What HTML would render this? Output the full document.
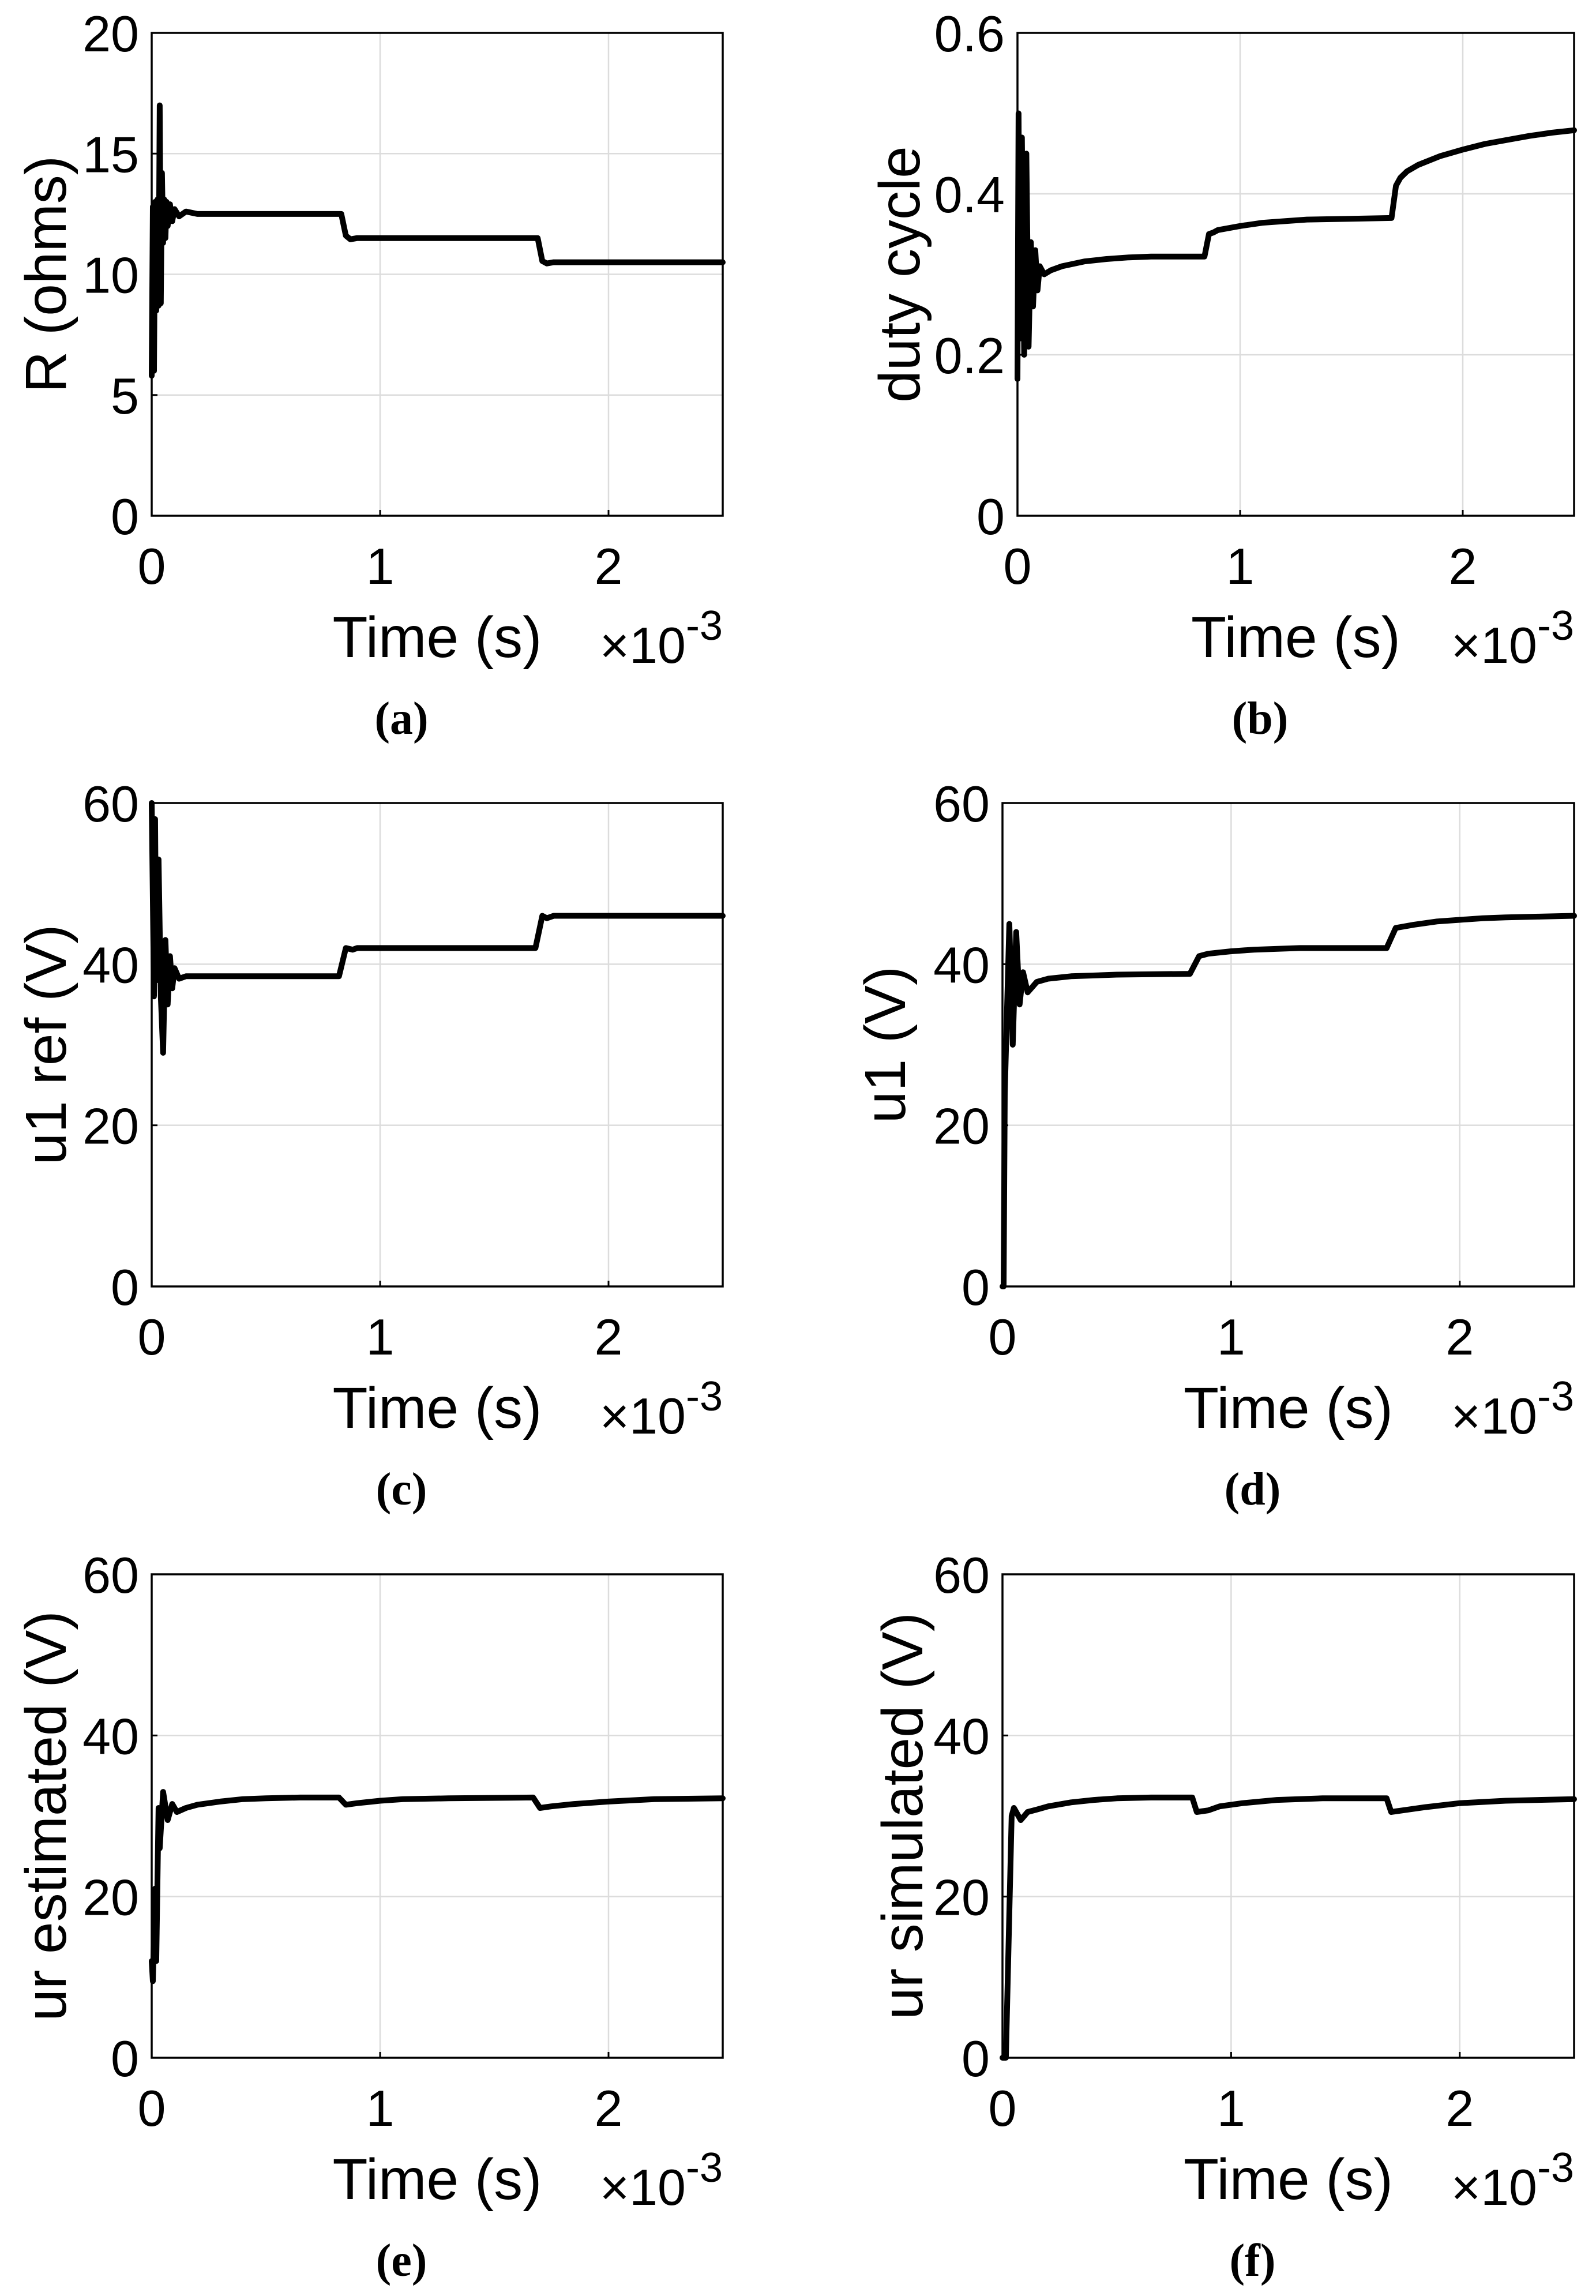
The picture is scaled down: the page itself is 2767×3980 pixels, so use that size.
<!DOCTYPE html>
<html><head><meta charset="utf-8"><style>
html,body{margin:0;padding:0;background:#fff}
svg{display:block}
text{font-family:"Liberation Sans",Arial,sans-serif;fill:#000}
</style></head>
<body>
<svg id="fig" width="2767" height="3980" viewBox="0 0 2767 3980" xmlns="http://www.w3.org/2000/svg"></svg>
<script>
// ---- data (time in ms, i.e. x10^-3 s) ----
const xTicks = [0, 1, 2];
const tA = [0,0.005,0.01,0.015,0.02,0.025,0.03,0.035,0.04,0.045,0.05,0.055,0.06,0.065,0.07,0.08,0.09,0.1,0.12,0.15,0.2,0.83,0.85,0.87,0.9,1.69,1.71,1.73,1.76,2.5];
const vA = [5.8,12.8,6,13,8.5,13.1,8.7,17,8.8,14.2,11.3,13.1,11.5,13,12,12.9,12.2,12.7,12.4,12.6,12.5,12.5,11.6,11.45,11.5,11.5,10.55,10.45,10.5,10.5];
const tB = [0,0.005,0.01,0.02,0.03,0.04,0.05,0.06,0.07,0.08,0.09,0.1,0.12,0.15,0.2,0.25,0.3,0.4,0.5,0.6,0.84,0.86,0.88,0.9,1.0,1.1,1.2,1.3,1.5,1.68,1.7,1.72,1.75,1.8,1.9,2.0,2.1,2.2,2.3,2.4,2.5];
const vB = [0.17,0.5,0.22,0.47,0.2,0.45,0.21,0.34,0.26,0.33,0.28,0.31,0.3,0.305,0.31,0.313,0.316,0.319,0.321,0.322,0.322,0.35,0.352,0.355,0.36,0.364,0.366,0.368,0.369,0.37,0.41,0.42,0.428,0.436,0.447,0.455,0.462,0.467,0.472,0.476,0.479];
const tC = [0,0.01,0.015,0.02,0.03,0.04,0.05,0.06,0.07,0.08,0.09,0.1,0.12,0.15,0.82,0.85,0.88,0.9,1.68,1.71,1.73,1.76,2.5];
const vC = [60,36,58,38,53,36,29,43,35,41,37,39.5,38.2,38.5,38.5,42,41.8,42,42,46,45.7,46,46];
const tD = [0,0.005,0.01,0.03,0.045,0.06,0.075,0.09,0.11,0.15,0.2,0.3,0.5,0.82,0.86,0.9,1.0,1.1,1.3,1.68,1.72,1.8,1.9,2.0,2.1,2.2,2.35,2.5];
const vD = [0,0,24,45,30,44,35,39,36.5,37.8,38.2,38.5,38.7,38.8,41,41.3,41.6,41.8,42,42,44.5,44.9,45.3,45.5,45.7,45.8,45.9,46];
const tE = [0,0.005,0.015,0.02,0.03,0.035,0.05,0.07,0.09,0.11,0.15,0.2,0.3,0.4,0.5,0.65,0.82,0.85,0.9,1.0,1.1,1.3,1.67,1.7,1.75,1.85,2.0,2.2,2.5];
const vE = [12,9.5,21,12,31,26,33,29.5,31.5,30.5,31,31.4,31.8,32.1,32.2,32.3,32.3,31.4,31.6,31.9,32.1,32.2,32.3,31,31.2,31.5,31.8,32.1,32.2];
const tF = [0,0.015,0.04,0.05,0.08,0.11,0.15,0.2,0.3,0.4,0.5,0.65,0.83,0.85,0.9,0.95,1.05,1.2,1.4,1.68,1.7,1.75,1.85,2.0,2.2,2.5];
const vF = [0,0,30,31,29.5,30.5,30.8,31.2,31.7,32,32.2,32.3,32.3,30.5,30.7,31.2,31.6,32,32.2,32.2,30.5,30.7,31.1,31.6,31.9,32.1];
const yTicksA = [0,5,10,15,20];
const yTicksB = [0,0.2,0.4,0.6];
const yTicksV = [0,20,40,60];

const NS = "http://www.w3.org/2000/svg";
const svg = document.getElementById('fig');
function el(tag, attrs, parent, txt){
  const e = document.createElementNS(NS, tag);
  for (const k in attrs) e.setAttribute(k, attrs[k]);
  if (txt !== undefined) e.textContent = txt;
  (parent||svg).appendChild(e);
  return e;
}
const panels = [
  {id:'a', L:263, T:57,   R:1253, B:894,  ymax:20,  yt:yTicksA, t:tA, v:vA, label:'R (ohms)', lx:80},
  {id:'b', L:1764,T:57,   R:2729, B:894,  ymax:0.6, yt:yTicksB, t:tB, v:vB, label:'duty cycle', lx:1560},
  {id:'c', L:263, T:1392, R:1253, B:2230, ymax:60,  yt:yTicksV, t:tC, v:vC, label:'u1 ref (V)', lx:80},
  {id:'d', L:1738,T:1392, R:2729, B:2230, ymax:60,  yt:yTicksV, t:tD, v:vD, label:'u1 (V)', lx:1535},
  {id:'e', L:263, T:2729, R:1253, B:3567, ymax:60,  yt:yTicksV, t:tE, v:vE, label:'ur estimated (V)', lx:80},
  {id:'f', L:1738,T:2729, R:2729, B:3567, ymax:60,  yt:yTicksV, t:tF, v:vF, label:'ur simulated (V)', lx:1565}
];
panels.forEach(p => {
  const g = el('g', {});
  
  
  const xs = x => p.L + (x/2.5)*(p.R-p.L);
  const ys = y => p.B - (y/p.ymax)*(p.B-p.T);
  xTicks.forEach(x => {
    if (x>0){ const l = el('line',{x1:xs(x),x2:xs(x),y1:p.T,y2:p.B,stroke:'#dcdcdc','stroke-width':2.5},g);
        }
    const tk = el('line',{x1:xs(x),x2:xs(x),y1:p.B,y2:p.B-10,stroke:'#000','stroke-width':3},g);
     
    const t = el('text',{x:xs(x),y:p.B+118,'font-size':88,'text-anchor':'middle'},g,String(x));
     
  });
  p.yt.forEach(y => {
    if (y>0 && y<p.ymax){ const l = el('line',{x1:p.L,x2:p.R,y1:ys(y),y2:ys(y),stroke:'#dcdcdc','stroke-width':2.5},g);
        }
    const tk = el('line',{x1:p.L,x2:p.L+10,y1:ys(y),y2:ys(y),stroke:'#000','stroke-width':3},g);
     
    const t = el('text',{x:p.L-22,y:ys(y)+32,'font-size':88,'text-anchor':'end'},g,String(y));
     
  });
  const fr = el('rect',{x:p.L,y:p.T,width:p.R-p.L,height:p.B-p.T,fill:'none',stroke:'#000','stroke-width':3.5},g);
   
  const d = p.t.map((t,i)=>(i?'L':'M')+xs(t).toFixed(1)+','+ys(p.v[i]).toFixed(1)).join(' ');
  const ln = el('path',{d:d,fill:'none',stroke:'#000','stroke-width':10,'stroke-linejoin':'round','stroke-linecap':'round'},g);
   
  const cx = (p.L+p.R)/2;
  const xl = el('text',{x:cx,y:p.B+245,'font-size':100,'text-anchor':'middle'},g,'Time (s)');
   
  const ex = el('text',{x:p.R,y:p.B+255,'font-size':88,'text-anchor':'end'},g);
   
  el('tspan',{},ex,'\u00d710');
  el('tspan',{dy:-40,'font-size':72},ex,'-3');
  const cy = (p.T+p.B)/2;
  const yl = el('text',{x:p.lx,y:cy,'font-size':100,'text-anchor':'middle','dominant-baseline':'central',transform:'rotate(-90 '+p.lx+' '+cy+')'},g,p.label);
   
  const cap = el('text',{x:cx-62,y:p.B+378,'font-size':80,'text-anchor':'middle','font-weight':'bold',style:'font-family:"Liberation Serif",serif'},g,'('+p.id+')');
   
});
</script>
</body></html>
